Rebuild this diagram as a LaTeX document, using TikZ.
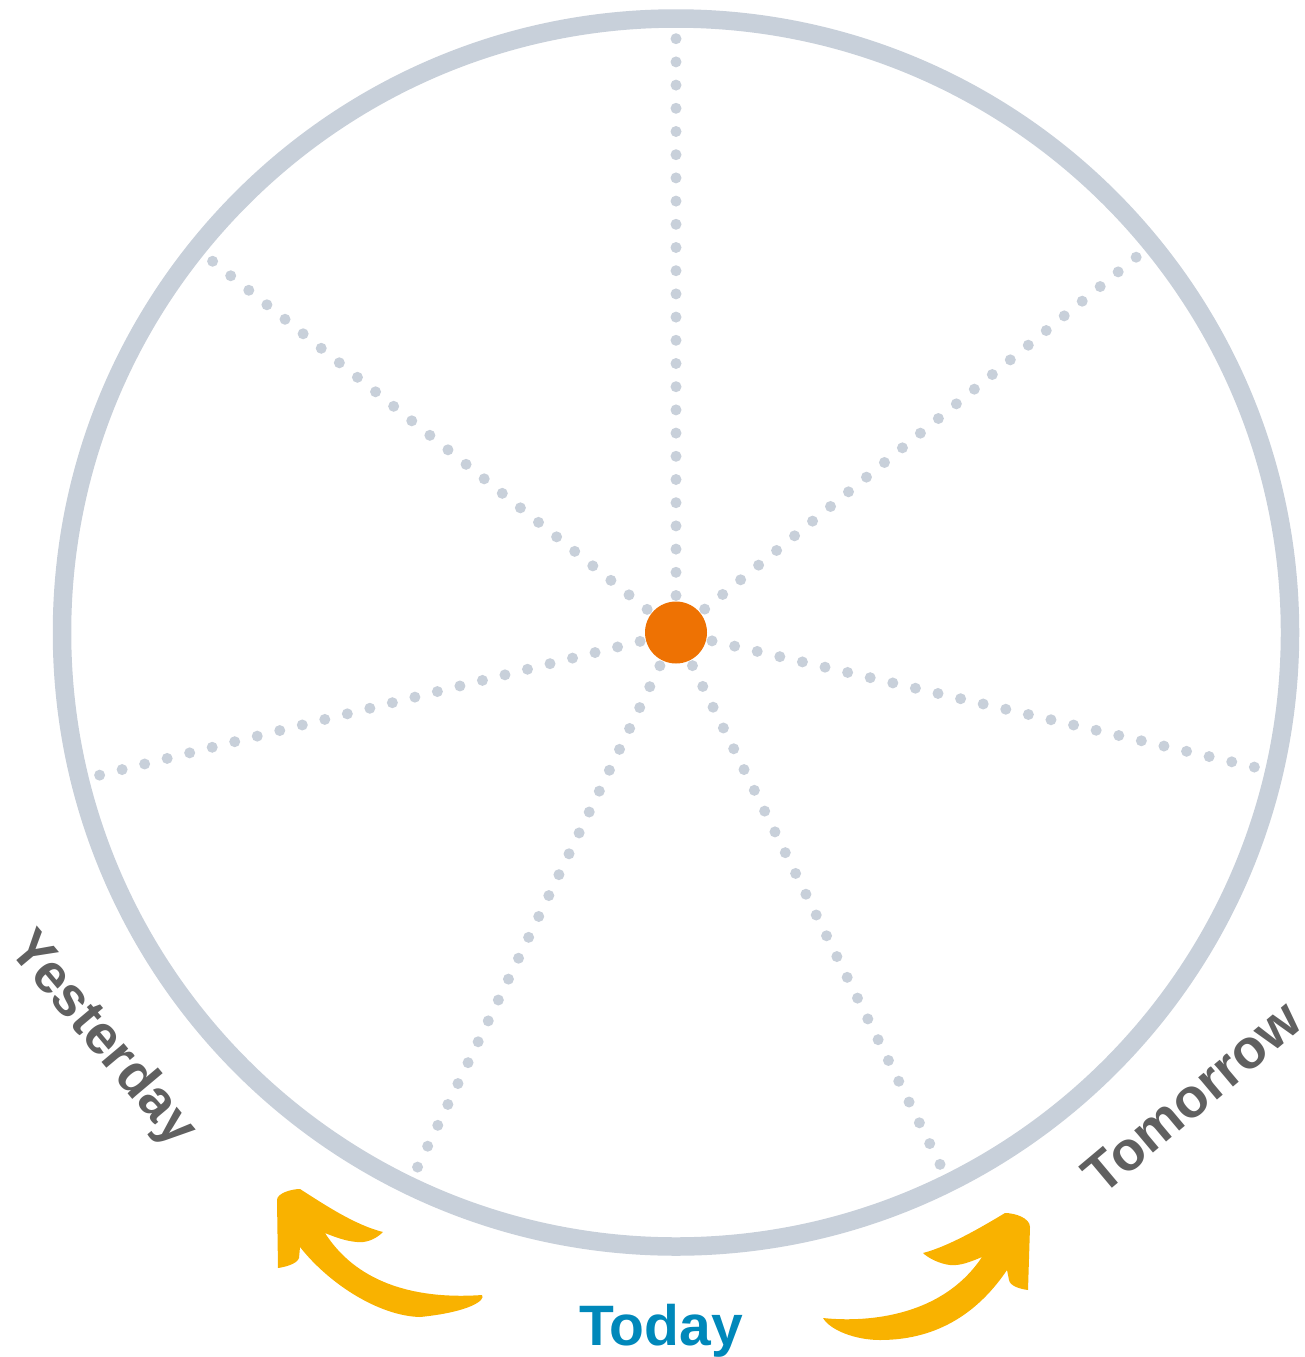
\documentclass[tikz,border=0pt]{standalone}
\usepackage{fontspec}
\setmainfont{Liberation Sans}
\definecolor{ringgray}{HTML}{C8D0DA}
\definecolor{hubcol}{HTML}{EE7203}
\definecolor{arrowyel}{HTML}{F9B200}
\definecolor{labgray}{HTML}{606060}
\definecolor{todayblue}{HTML}{0088BA}
\begin{document}
\begin{tikzpicture}[x=1pt,y=-1pt,
  lab/.style={font=\bfseries\fontsize{55}{60}\selectfont, text=labgray, inner sep=0pt},
  spokedot/.style={fill=ringgray},
  bentarrow/.style={fill=arrowyel}]
\useasboundingbox (0,0) rectangle (1305,1357);
\coordinate (c) at (676,632.5);
\draw[ringgray, line width=18.5pt] (c) circle (614);
\foreach \ang in {-90,-39.2,13.1,63.6,115.8,166.1,218.7}{
  \foreach \j in {0,...,24}{
    \fill[spokedot] (c) ++(\ang:37+23.2*\j) circle (5.5);
  }
}
\node[circle, fill=hubcol, minimum size=62pt, inner sep=0pt] (hub) at (c) {};
\node[lab, rotate=-50] (yest) at (102,1040) {Yesterday};
\node[lab, rotate=40] (tomo) at (1192,1097) {Tomorrow};
\node[font=\bfseries\fontsize{57}{60}\selectfont, text=todayblue, anchor=base, inner sep=0pt] (today) at (661,1345) {Today};
% left arrow
\fill[bentarrow] (277,1200) .. controls (277,1193) and (292,1189) .. (300,1189)
  .. controls (325,1205) and (355,1225) .. (383,1232)
  .. controls (375,1240) and (365,1243) .. (357,1242)
  .. controls (345,1241) and (335,1237) .. (325,1233)
  .. controls (355,1280) and (410,1300) .. (482,1295)
  .. controls (486,1300) and (470,1312) .. (420,1317)
  .. controls (380,1316) and (330,1285) .. (300,1247)
  -- (299,1258) .. controls (297,1264) and (285,1267) .. (278,1268) -- cycle;
% right arrow
\fill[bentarrow] (1005,1213) .. controls (1015,1213) and (1030,1218) .. (1030,1227)
  -- (1028,1290) .. controls (1020,1289) and (1010,1286) .. (1009,1280)
  -- (1007,1270) .. controls (980,1310) and (940,1340) .. (880,1340)
  .. controls (855,1340) and (830,1330) .. (823,1318)
  .. controls (860,1322) and (940,1320) .. (982,1257)
  .. controls (970,1262) and (960,1266) .. (950,1265)
  .. controls (940,1264) and (928,1258) .. (923,1253)
  .. controls (950,1246) and (985,1225) .. (1005,1213) -- cycle;
\end{tikzpicture}
\end{document}
